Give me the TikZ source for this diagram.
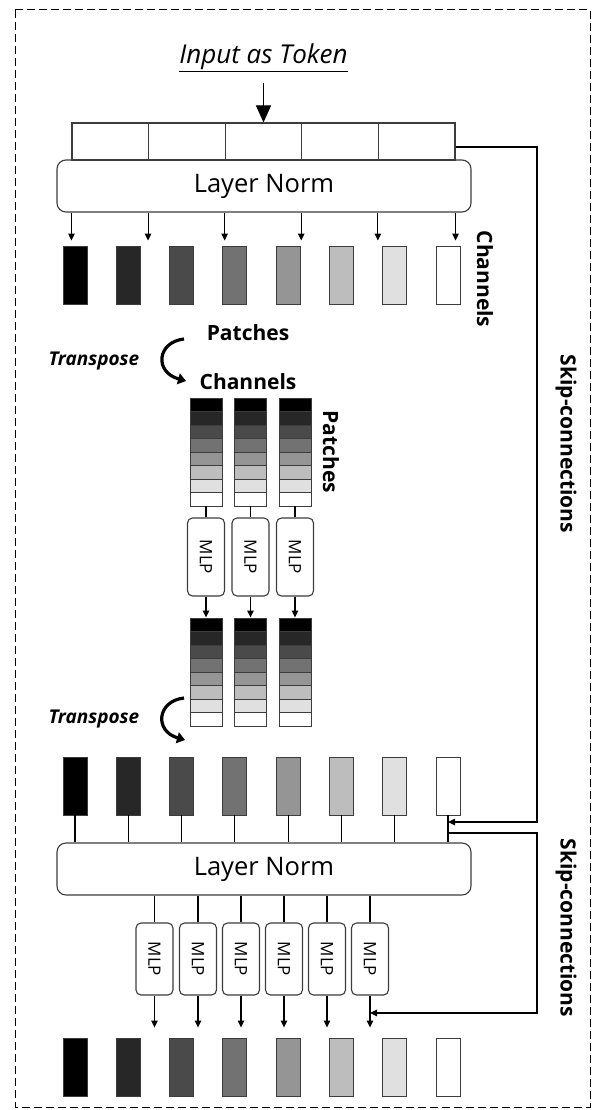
\documentclass[tikz,border=0pt]{standalone}
\usepackage{fontspec}
\setmainfont{Open Sans}
\usetikzlibrary{arrows.meta,calc}
\definecolor{ga}{HTML}{000000}
\definecolor{gb}{HTML}{272727}
\definecolor{gc}{HTML}{4A4A4A}
\definecolor{gd}{HTML}{727272}
\definecolor{ge}{HTML}{959595}
\definecolor{gf}{HTML}{BDBDBD}
\definecolor{gg}{HTML}{E0E0E0}
\definecolor{gh}{HTML}{FFFFFF}
\definecolor{edge}{HTML}{3C3C3C}
\begin{document}
\begin{tikzpicture}[x=1pt,y=-1pt,
  line width=1.1pt,
  border/.style={draw=black,dashed,dash pattern=on 8pt off 4pt,line width=1pt},
  cell/.style={draw=edge,minimum width=76.6pt,minimum height=37pt,inner sep=0pt},
  lnbox/.style={draw=edge,rounded corners=9pt,minimum width=414pt,minimum height=52pt,inner sep=0pt,font=\fontsize{25.5}{30}\selectfont},
  bar/.style={draw=edge,line width=0.9pt,minimum width=24pt,minimum height=58pt,inner sep=0pt},
  scell/.style={draw=edge,line width=0.9pt,minimum width=32pt,minimum height=13.5pt,inner sep=0pt},
  mlp/.style={draw=edge,rounded corners=5pt,minimum width=37pt,inner sep=0pt,font=\fontsize{17}{20}\selectfont},
  mlptext/.style={rotate=-90,inner sep=0pt,font=\fontsize{17}{20}\selectfont},
  lbl/.style={inner sep=0pt,font=\fontsize{21}{25}\selectfont\bfseries},
  tlbl/.style={inner sep=0pt,font=\fontsize{19}{23}\selectfont\bfseries\itshape},
  arr/.style={-{Triangle[length=7pt,width=6.5pt]}},
  bigarr/.style={-{Triangle[length=17pt,width=15pt]}},
  tarr/.style={line width=3.2pt,-{Triangle[length=8pt,width=11pt]}}
]
\useasboundingbox (0,0) rectangle (593,1110);
\draw[border] (15,10) rectangle (590,1107);

% input
\node[inner sep=0pt,font=\fontsize{26}{30}\selectfont\itshape] (input) at (263.5,58) {\underline{Input as Token}};

% token cells
\foreach \k in {1,...,5} {
  \node[cell] (c\k) at ({72+38.3+76.6*(\k-1)},141.5) {};
}
\draw[bigarr] ($(input.south)+(0,10)$) -- (c3.north);

% layer norm 1
\node[lnbox] (ln1) at (264,186) {Layer Norm};
\foreach \k in {1,...,5} {
  \draw[arr] (ln1.south -| c\k.west) -- ++(0,28);
}
\draw[arr] (ln1.south -| c5.east) -- ++(0,28);

% bars rows
\foreach \i/\c in {1/ga,2/gb,3/gc,4/gd,5/ge,6/gf,7/gg,8/gh} {
  \node[bar,fill=\c] (p\i) at ({75+53.286*(\i-1)},275.5) {};
  \node[bar,fill=\c] (q\i) at ({75+53.286*(\i-1)},786) {};
  \node[bar,fill=\c] (r\i) at ({75+53.286*(\i-1)},1067) {};
}
\node[lbl,rotate=-90] (chv) at (485,279) {Channels};

% transpose 1
\node[lbl] (patchesh) at (248,333) {Patches};
\node[tlbl] (tr1) at (94,361) {Transpose};
\node[lbl] (channelsh) at (248,382) {Channels};
\coordinate (t1a) at (184,339);
\coordinate (t1b) at (186,381);
\draw[tarr] (t1a) .. controls (157,342) and (154,372) .. (t1b);

% stacks and MLPs
\foreach \j/\x in {1/206,2/250.5,3/295} {
  \foreach \k/\c in {1/ga,2/gb,3/gc,4/gd,5/ge,6/gf,7/gg,8/gh} {
    \node[scell,fill=\c] (sa\j\k) at (\x,{398+13.5*(\k-0.5)}) {};
    \node[scell,fill=\c] (sb\j\k) at (\x,{618+13.5*(\k-0.5)}) {};
  }
  \node[mlp,minimum height=78pt] (ma\j) at (\x,557) {};
  \node[mlptext] at (ma\j) {MLP};
  \draw (sa\j8.south) -- (ma\j.north);
  \draw[arr] (ma\j.south) -- (sb\j1.north);
}
\node[lbl,rotate=-90] (patv) at (331,452) {Patches};

% transpose 2
\node[tlbl] (tr2) at (94,719) {Transpose};
\coordinate (t2a) at (184,698);
\coordinate (t2b) at (185,740);
\draw[tarr] (t2a) .. controls (157,701) and (154,731) .. (t2b);

% layer norm 2
\node[lnbox] (ln2) at (264,869) {Layer Norm};
\foreach \i in {1,...,8} {
  \draw (q\i.south) -- (q\i.south |- ln2.north);
}

% bottom MLPs
\foreach \j/\x in {1/154.5,2/198,3/241,4/284,5/327,6/370} {
  \node[mlp,minimum height=72pt] (mb\j) at (\x,959) {};
  \node[mlptext] at (mb\j) {MLP};
  \draw (mb\j.north |- ln2.south) -- (mb\j.north);
  \draw[arr] (mb\j.south) -- ++(0,32);
}

% skip connections
\coordinate (k1) at (537,147);
\coordinate (k2) at (537,822);
\coordinate (k3) at (537,833);
\coordinate (k4) at (537,1013);
\draw[arr] (c5.east |- k1) -- (k1) -- (k2) -- (k2 -| q8);
\draw[arr] (q8 |- k3) -- (k3) -- (k4) -- (k4 -| mb6);
\node[lbl,rotate=-90] (sk1) at (566,444) {Skip-connections};
\node[lbl,rotate=-90] (sk2) at (566,928) {Skip-connections};
\end{tikzpicture}
\end{document}
